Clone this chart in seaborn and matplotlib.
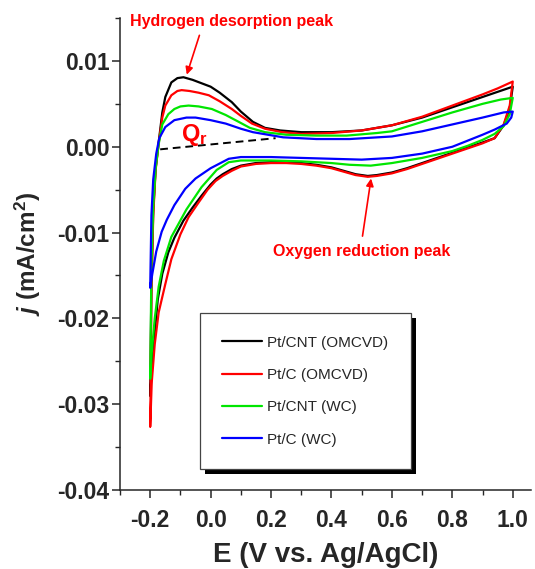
import pandas as pd
import matplotlib
matplotlib.use('Agg')
import matplotlib.pyplot as plt
import matplotlib.ticker as mticker
from matplotlib.patches import Rectangle
from matplotlib.transforms import IdentityTransform
import seaborn as sns

# Cyclic voltammograms (E in V vs Ag/AgCl, j in mA/cm2)
# each loop: forward (anodic) scan -0.2 -> 1.0, then return (cathodic) scan 1.0 -> -0.2
labels = ['Pt/CNT (OMCVD)', 'Pt/C (OMCVD)', 'Pt/CNT (WC)', 'Pt/C (WC)']
colors = ['#000000', '#ff0000', '#00e600', '#0000ff']

cnt_omcvd_E = [-0.2, -0.196, -0.19, -0.182, -0.172, -0.16, -0.15, -0.13, -0.11, -0.09,
               -0.06, -0.03, 0.0, 0.03, 0.07, 0.10, 0.14, 0.18, 0.23, 0.30, 0.40, 0.50,
               0.60, 0.70, 0.80, 0.90, 0.95, 1.0,
               0.99, 0.97, 0.94, 0.90, 0.85, 0.80, 0.75, 0.70, 0.65, 0.60, 0.55, 0.52,
               0.48, 0.44, 0.40, 0.35, 0.30, 0.25, 0.20, 0.15, 0.10, 0.07, 0.04, 0.02,
               0.0, -0.03, -0.06, -0.09, -0.12, -0.14, -0.16, -0.175, -0.19, -0.2]
cnt_omcvd_j = [-0.029, -0.016, -0.0075, -0.0025, 0.0005, 0.0040, 0.0058, 0.0075, 0.0080, 0.0081,
               0.0078, 0.0074, 0.0070, 0.0063, 0.0052, 0.0041, 0.0029, 0.0022, 0.0019, 0.0017,
               0.0017, 0.0019, 0.0025, 0.0034, 0.0046, 0.0058, 0.0064, 0.0070,
               0.0045, 0.0025, 0.0010, 0.0005, -0.0001, -0.0007, -0.0013, -0.0019, -0.0025,
               -0.0030, -0.0033, -0.0034, -0.0032, -0.0028, -0.0024, -0.0021, -0.0019,
               -0.0018, -0.0018, -0.0019, -0.0022, -0.0026, -0.0032, -0.0037, -0.0044,
               -0.0057, -0.0071, -0.0086, -0.0106, -0.0123, -0.0148, -0.0178, -0.0235, -0.029]

c_omcvd_E = [-0.2, -0.196, -0.19, -0.182, -0.172, -0.16, -0.15, -0.13, -0.11, -0.096,
             -0.07, -0.04, -0.006, 0.03, 0.07, 0.10, 0.137, 0.18, 0.237, 0.30, 0.40, 0.50,
             0.60, 0.70, 0.80, 0.90, 0.95, 1.0,
             0.99, 0.97, 0.94, 0.90, 0.85, 0.80, 0.75, 0.70, 0.65, 0.60, 0.55, 0.52,
             0.48, 0.44, 0.40, 0.35, 0.30, 0.25, 0.20, 0.15, 0.10, 0.07, 0.04, 0.016,
             -0.01, -0.04, -0.073, -0.10, -0.13, -0.15, -0.172, -0.185, -0.195, -0.2]
c_omcvd_j = [-0.0326, -0.017, -0.008, -0.0027, 0.0004, 0.0034, 0.0048, 0.0060, 0.0065, 0.0066,
             0.0065, 0.0063, 0.0060, 0.0053, 0.0044, 0.0036, 0.0027, 0.0021, 0.0017, 0.0015,
             0.0016, 0.0019, 0.0025, 0.0035, 0.0048, 0.0061, 0.0068, 0.0076,
             0.0048, 0.0026, 0.0010, 0.0004, -0.0002, -0.0008, -0.0014, -0.0020, -0.0026,
             -0.0031, -0.0034, -0.0035, -0.0033, -0.0029, -0.0025, -0.0022, -0.0020,
             -0.0019, -0.0019, -0.0020, -0.0023, -0.0028, -0.0034, -0.0040, -0.0050,
             -0.0065, -0.0082, -0.0102, -0.0131, -0.0160, -0.0193, -0.0230, -0.0275, -0.0326]

cnt_wc_E = [-0.2, -0.196, -0.19, -0.182, -0.172, -0.16, -0.14, -0.12, -0.10, -0.073,
            -0.04, 0.004, 0.05, 0.093, 0.13, 0.18, 0.25, 0.35, 0.45, 0.55, 0.60, 0.70,
            0.80, 0.90, 0.96, 1.0,
            0.99, 0.97, 0.94, 0.90, 0.85, 0.80, 0.70, 0.60, 0.53, 0.46, 0.40, 0.30,
            0.20, 0.10, 0.06, 0.02, -0.03, -0.08, -0.13, -0.155, -0.172, -0.185,
            -0.195, -0.2]
cnt_wc_j = [-0.027, -0.014, -0.007, -0.0025, 0.0003, 0.0026, 0.0038, 0.0044, 0.0047, 0.0048,
            0.0047, 0.0044, 0.0037, 0.0029, 0.0022, 0.0017, 0.0014, 0.0013, 0.0013, 0.0016,
            0.0018, 0.0029, 0.0040, 0.0050, 0.0055, 0.0057,
            0.0038, 0.0024, 0.0015, 0.0008, 0.0001, -0.0005, -0.0013, -0.0019, -0.0022,
            -0.0021, -0.0019, -0.0017, -0.0016, -0.0016, -0.0018, -0.0027, -0.0047,
            -0.0073, -0.0105, -0.0133, -0.0163, -0.0200, -0.0240, -0.027]

c_wc_E = [-0.2, -0.196, -0.19, -0.18, -0.17, -0.15, -0.12, -0.08, -0.05, 0.0, 0.05,
          0.10, 0.14, 0.24, 0.35, 0.46, 0.60, 0.70, 0.80, 0.90, 0.97, 1.0,
          0.995, 0.98, 0.94, 0.90, 0.85, 0.80, 0.70, 0.60, 0.50, 0.40, 0.30, 0.20,
          0.10, 0.06, 0.0, -0.05, -0.084, -0.12, -0.145, -0.162, -0.18, -0.193, -0.2]
c_wc_j = [-0.0164, -0.008, -0.0038, -0.0008, 0.0010, 0.0023, 0.0031, 0.0034, 0.0034, 0.0031,
          0.0027, 0.0021, 0.0017, 0.0011, 0.0009, 0.0009, 0.0012, 0.0018, 0.0026, 0.0034,
          0.0040, 0.0041,
          0.0034, 0.0027, 0.0020, 0.0014, 0.0007, 0.0000, -0.0008, -0.0013, -0.0015,
          -0.0014, -0.0013, -0.0012, -0.0012, -0.0014, -0.0025, -0.0037, -0.0049,
          -0.0068, -0.0085, -0.0099, -0.0122, -0.0148, -0.0164]

# baseline used for the charge Q_r
base_E = [-0.167, 0.215]
base_j = [-0.0003, 0.0010]

series_E = [cnt_omcvd_E, c_omcvd_E, cnt_wc_E, c_wc_E]
series_j = [cnt_omcvd_j, c_omcvd_j, cnt_wc_j, c_wc_j]
frames = []
for lab, e, j in zip(labels, series_E, series_j):
    frames.append(pd.DataFrame({'E': e, 'j': j, 'sample': lab}))
df = pd.concat(frames, ignore_index=True)

sns.set_style('ticks')
plt.rcParams['font.family'] = ['Liberation Sans', 'DejaVu Sans']
plt.rcParams['axes.unicode_minus'] = False
plt.rcParams['mathtext.fontset'] = 'custom'
plt.rcParams['mathtext.rm'] = 'Liberation Sans:bold'
plt.rcParams['mathtext.it'] = 'Liberation Sans:italic:bold'

fig = plt.figure(figsize=(5.35, 5.69), dpi=100)
ax = fig.add_axes([0.2243, 0.1388, 0.768, 0.8295])

sns.lineplot(data=df, x='E', y='j', hue='sample', hue_order=labels,
             palette=dict(zip(labels, colors)), estimator=None, sort=False,
             linewidth=1.6, ax=ax)
ax.plot(base_E, base_j, color='black', linestyle='--', linewidth=1.4, dashes=(4, 2.5))

ax.set_xlim(-0.3, 1.06)
ax.set_ylim(-0.04, 0.015)
ax.xaxis.set_major_locator(mticker.MultipleLocator(0.2))
ax.xaxis.set_minor_locator(mticker.MultipleLocator(0.1))
ax.yaxis.set_major_locator(mticker.MultipleLocator(0.01))
ax.yaxis.set_minor_locator(mticker.MultipleLocator(0.005))
ax.xaxis.set_major_formatter(mticker.FormatStrFormatter('%.1f'))
ax.yaxis.set_major_formatter(mticker.FormatStrFormatter('%.2f'))
ax.set_xticks([-0.2, 0.0, 0.2, 0.4, 0.6, 0.8, 1.0])

ax.tick_params(which='major', direction='out', length=6, width=1.1, labelsize=16.5)
ax.tick_params(which='minor', direction='out', length=3.5, width=1.0)
ax.tick_params(axis='x', which='major', pad=8)
ax.tick_params(axis='y', which='major', pad=1.5)
for lbl in ax.get_xticklabels() + ax.get_yticklabels():
    lbl.set_fontweight('bold')
sns.despine(ax=ax)
ax.spines['left'].set_linewidth(1.1)
ax.spines['bottom'].set_linewidth(1.1)

ax.set_xlabel('E (V vs. Ag/AgCl)', fontsize=20, fontweight='bold', labelpad=7)
ax.set_ylabel(r'$\mathit{j}$ (mA/cm$^\mathregular{2}$)', fontsize=17.5, fontweight='bold', labelpad=10)

# annotations
ax.annotate('Hydrogen desorption peak', xy=(-0.079, 0.0084), xytext=(0.07, 0.01455),
            color='red', fontsize=11.5, fontweight='bold', ha='center', va='center',
            annotation_clip=False,
            arrowprops=dict(arrowstyle='-|>', color='red', lw=1.2, mutation_scale=11,
                            relpos=(0.35, 0.0), shrinkA=2, shrinkB=0))
ax.annotate('Oxygen reduction peak', xy=(0.531, -0.0037), xytext=(0.499, -0.01215),
            color='red', fontsize=11.5, fontweight='bold', ha='center', va='center',
            arrowprops=dict(arrowstyle='-|>', color='red', lw=1.2, mutation_scale=11,
                            relpos=(0.5, 1.0), shrinkA=3, shrinkB=0))
ax.text(-0.098, 0.0007, r'Q$_\mathregular{r}$', color='red', fontsize=17,
        fontweight='bold', ha='left', va='baseline')

handles, labs = ax.get_legend_handles_labels()
leg = ax.legend(handles[:4], labs[:4], loc='upper left', bbox_to_anchor=(0.175, 0.392),
                frameon=True, fancybox=False, edgecolor='#444444', framealpha=1,
                prop={'size': 11},
                handlelength=2.6, handletextpad=0.3, labelspacing=1.2, borderpad=1.5)
leg.get_frame().set_linewidth(0.9)

# solid black drop shadow behind the legend box
fig.canvas.draw()
bb = leg.get_window_extent()
ax.add_patch(Rectangle((bb.x0 + 5, bb.y0 - 5), bb.width, bb.height, transform=IdentityTransform(),
                       facecolor='black', edgecolor='none', zorder=4.9, clip_on=False))

fig.savefig('out.png', dpi=100)
